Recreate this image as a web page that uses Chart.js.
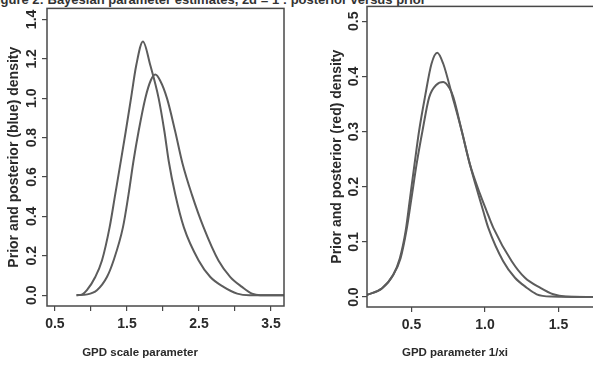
<!DOCTYPE html>
<html>
<head>
<meta charset="utf-8">
<script src="https://cdn.jsdelivr.net/npm/chart.js@4.4.1/dist/chart.umd.min.js"></script>
<style>
  html, body { margin: 0; padding: 0; background: #fff; }
  body { width: 593px; height: 367px; overflow: hidden; position: relative; font-family: "Liberation Sans", Arial, sans-serif; color: #2a2a2a; }
  canvas { position: absolute; top: 0; }
  #leftChart { left: 0; }
  #rightChart { left: 300px; }
  .lbl { position: absolute; font-weight: bold; font-size: 11.5px; white-space: nowrap; transform: translateX(-50%); }
  #caption { position: absolute; left: -11px; top: -8px; font-weight: bold; font-size: 13px; white-space: nowrap; color: #333; }
</style>
</head>
<body>
<div id="caption">Figure 2: Bayesian parameter estimates, 2d = 1 : posterior versus prior</div>
<canvas id="leftChart" width="300" height="367"></canvas>
<canvas id="rightChart" width="310" height="367"></canvas>
<div class="lbl" style="left:140px; top:346px;">GPD scale parameter</div>
<div class="lbl" style="left:455px; top:346px;">GPD parameter 1/xi</div>
<script>
/* Densité a priori / a posteriori, deux panneaux. */

// panneau gauche : paramètre d'échelle GPD
const scaleTallX = [0.80, 0.88, 0.944, 1.06, 1.153, 1.259, 1.337, 1.41, 1.483, 1.556, 1.629, 1.722, 1.824, 1.94, 2.02, 2.08, 2.17, 2.29, 2.495, 2.657, 2.84, 3.03, 3.2, 3.68];
const scaleTallY = [0, 0.004, 0.025, 0.092, 0.176, 0.344, 0.512, 0.67, 0.831, 0.999, 1.167, 1.288, 1.167, 0.999, 0.831, 0.68, 0.512, 0.344, 0.176, 0.092, 0.042, 0.008, 0, 0];
const scaleWideX = [0.80, 0.95, 1.083, 1.222, 1.314, 1.444, 1.522, 1.59, 1.661, 1.754, 1.83, 1.893, 1.96, 2.056, 2.17, 2.27, 2.40, 2.564, 2.77, 2.935, 3.097, 3.236, 3.35, 3.68];
const scaleWideY = [0, 0.004, 0.025, 0.092, 0.176, 0.344, 0.512, 0.68, 0.831, 0.999, 1.09, 1.12, 1.09, 0.999, 0.831, 0.67, 0.512, 0.344, 0.176, 0.092, 0.042, 0.008, 0, 0];
const scaleXTicks = [0.5, 1.0, 1.5, 2.0, 2.5, 3.0, 3.5];
const scaleXLabels = [0.5, 1.5, 2.5, 3.5];
const scaleYTicks = [0, 0.2, 0.4, 0.6, 0.8, 1.0, 1.2, 1.4];

// panneau droit : paramètre 1/xi
const xiTallX = [0.197, 0.3, 0.375, 0.42, 0.46, 0.49, 0.52, 0.552, 0.591, 0.636, 0.675, 0.716, 0.78, 0.841, 0.897, 0.954, 0.988, 1.022, 1.124, 1.204, 1.284, 1.352, 1.45, 1.81];
const xiTallY = [0.004, 0.016, 0.04, 0.07, 0.12, 0.18, 0.24, 0.302, 0.362, 0.423, 0.443, 0.423, 0.362, 0.302, 0.241, 0.187, 0.156, 0.126, 0.065, 0.035, 0.017, 0.005, 0.001, 0];
const xiWideX = [0.197, 0.3, 0.375, 0.425, 0.465, 0.5, 0.534, 0.575, 0.62, 0.67, 0.716, 0.76, 0.785, 0.841, 0.897, 0.966, 1.011, 1.056, 1.182, 1.272, 1.375, 1.465, 1.55, 1.81];
const xiWideY = [0.004, 0.016, 0.04, 0.07, 0.12, 0.18, 0.24, 0.302, 0.362, 0.385, 0.39, 0.378, 0.362, 0.302, 0.241, 0.187, 0.156, 0.126, 0.065, 0.035, 0.017, 0.005, 0.001, 0];
const xiXTicks = [0.5, 1.0, 1.5];
const xiYTicks = [0, 0.1, 0.2, 0.3, 0.4, 0.5];

const INK = '#484848';
const CURVE = '#5c5c5c';
const FAMILY = '"Liberation Sans", Arial, sans-serif';
const tickFont = { family: FAMILY, size: 14, weight: 'bold' };

const toPoints = (xs, ys) => xs.map((x, i) => ({ x, y: ys[i] }));

// cadre complet autour de la zone de tracé (box() de R)
const frameBox = {
  id: 'frameBox',
  afterDraw(chart) {
    const { ctx, chartArea: a } = chart;
    ctx.save();
    ctx.strokeStyle = INK;
    ctx.lineWidth = 1.5;
    ctx.strokeRect(a.left, a.top, a.right - a.left, a.bottom - a.top);
    ctx.restore();
  }
};

function curveDataset(points) {
  return {
    data: points,
    borderColor: CURVE,
    borderWidth: 2,
    pointRadius: 0,
    fill: false,
    cubicInterpolationMode: 'monotone'
  };
}

function buildPanel(canvas, cfg) {
  return new Chart(canvas, {
    type: 'line',
    data: { datasets: cfg.series.map(curveDataset) },
    options: {
      responsive: false,
      animation: false,
      devicePixelRatio: 1,
      layout: { padding: cfg.padding },
      plugins: { legend: { display: false }, tooltip: { enabled: false } },
      scales: {
        x: {
          type: 'linear',
          min: cfg.xMin,
          max: cfg.xMax,
          afterFit: s => { s.height = cfg.xAxisHeight; },
          afterBuildTicks: s => { s.ticks = cfg.xTicks.map(v => ({ value: v })); },
          border: { display: false },
          grid: { drawOnChartArea: false, drawTicks: true, tickLength: 5, color: INK, lineWidth: 1.2 },
          ticks: {
            color: '#2a2a2a',
            font: tickFont,
            padding: 5,
            maxRotation: 0,
            autoSkip: false,
            callback: v => (cfg.xLabels.includes(v) ? v.toFixed(1) : '')
          }
        },
        y: {
          type: 'linear',
          min: cfg.yMin,
          max: cfg.yMax,
          afterFit: s => { s.width = cfg.yAxisWidth; },
          afterBuildTicks: s => { s.ticks = cfg.yTicks.map(v => ({ value: v })); },
          border: { display: false },
          grid: { drawOnChartArea: false, drawTicks: true, tickLength: 5, color: INK, lineWidth: 1.2 },
          ticks: {
            color: '#2a2a2a',
            font: tickFont,
            padding: cfg.yTickPadding,
            minRotation: 90,
            maxRotation: 90,
            crossAlign: 'center',
            autoSkip: false,
            callback: v => v.toFixed(1)
          },
          title: {
            display: true,
            text: cfg.yTitle,
            color: '#2a2a2a',
            font: { family: FAMILY, size: 14, weight: 'bold' },
            padding: { top: cfg.yTitlePad, bottom: 0 }
          }
        }
      }
    },
    plugins: [frameBox]
  });
}

buildPanel(document.getElementById('leftChart'), {
  series: [toPoints(scaleTallX, scaleTallY), toPoints(scaleWideX, scaleWideY)],
  xMin: 0.39, xMax: 3.68, yMin: -0.055, yMax: 1.456,
  xTicks: scaleXTicks, xLabels: scaleXLabels, yTicks: scaleYTicks,
  padding: { top: 6, right: 16, left: 0, bottom: 0 },
  xAxisHeight: 61, yAxisWidth: 47, yTickPadding: 0, yTitlePad: 6,
  yTitle: 'Prior and posterior (blue) density'
});

buildPanel(document.getElementById('rightChart'), {
  series: [toPoints(xiTallX, xiTallY), toPoints(xiWideX, xiWideY)],
  xMin: 0.197, xMax: 1.81, yMin: -0.018, yMax: 0.527,
  xTicks: xiXTicks, xLabels: xiXTicks, yTicks: xiYTicks,
  padding: { top: 6, right: 6, left: 0, bottom: 0 },
  xAxisHeight: 60, yAxisWidth: 67, yTickPadding: -2, yTitlePad: 29,
  yTitle: 'Prior and posterior (red) density'
});
</script>
</body>
</html>
